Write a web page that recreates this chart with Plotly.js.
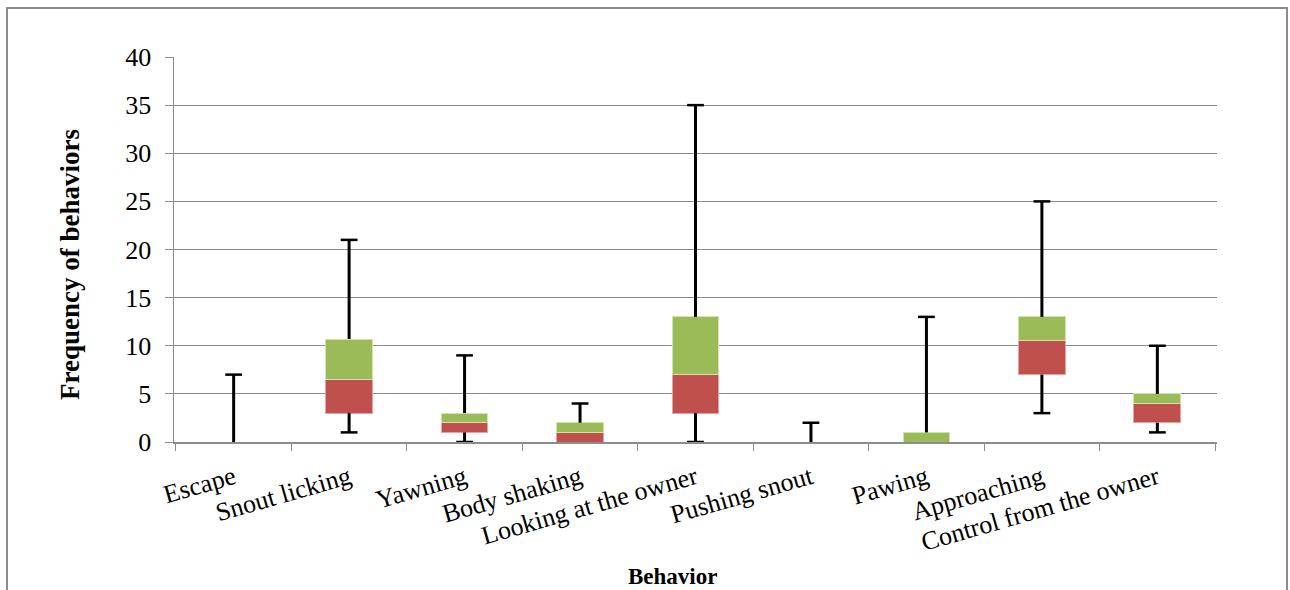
<!DOCTYPE html>
<html>
<head>
<meta charset="utf-8">
<script src="https://cdn.plot.ly/plotly-3.0.1.min.js"></script>
<style>
html,body{margin:0;padding:0;background:#fff;}
#wrap{position:relative;width:1290px;height:590px;overflow:hidden;}
#chart{position:absolute;left:0;top:0;width:1290px;height:590px;}
#frame{position:absolute;left:6px;top:7px;width:1282px;height:600px;border:2px solid #8c8c8c;pointer-events:none;box-sizing:border-box;}
</style>
</head>
<body>
<div id="wrap"><div id="chart"></div><div id="frame"></div></div>
<script>
var categories = ["Escape","Snout licking","Yawning","Body shaking","Looking at the owner","Pushing snout","Pawing","Approaching","Control from the owner"];
var minVals    = [0, 1, 0, 0, 0, 0, 0, 3, 1];
var q1Vals     = [0, 3, 1, 0, 3, 0, 0, 7, 2];
var medianVals = [0, 6.5, 2, 1, 7, 0, 0, 10.5, 4];
var q3Vals     = [0, 10.7, 3, 2, 13, 0, 1, 13, 5];
var maxVals    = [7, 21, 9, 4, 35, 2, 13, 25, 10];
var yTicks     = [0,5,10,15,20,25,30,35,40];

var RED = "#C0504D", GREEN = "#9BBB59";
var FONT = "'Liberation Serif', 'Times New Roman', serif";

// stacked-bar box parts
var baseTrace = {type:"bar", x:categories, y:q1Vals, marker:{color:"rgba(0,0,0,0)"}, hoverinfo:"skip", showlegend:false};
var lowerBox = {type:"bar", x:categories, y:medianVals.map(function(m,i){return m-q1Vals[i];}),
  marker:{color:RED, line:{color:"#E3A3A1", width:1}}, showlegend:false};
var upperBox = {type:"bar", x:categories, y:q3Vals.map(function(q,i){return q-medianVals[i];}),
  marker:{color:GREEN, line:{color:"#D2E4AE", width:1}}, showlegend:false};

// whisker segments (min..Q1, Q3..max)
var wx = [], wy = [];
categories.forEach(function(c,i){
  if(minVals[i] < q1Vals[i]){ wx.push(c,c,null); wy.push(minVals[i], q1Vals[i], null); }
  if(maxVals[i] > q3Vals[i]){ wx.push(c,c,null); wy.push(q3Vals[i], maxVals[i], null); }
});
var whiskers = {type:"scatter", mode:"lines", x:wx, y:wy, line:{color:"#000", width:3}, hoverinfo:"skip", showlegend:false};

// caps
var cx = [], cy = [];
categories.forEach(function(c,i){
  if(minVals[i] < q1Vals[i]){ cx.push(c); cy.push(minVals[i]); }
  if(maxVals[i] > q3Vals[i]){ cx.push(c); cy.push(maxVals[i]); }
});
var caps = {type:"scatter", mode:"markers", x:cx, y:cy,
  marker:{symbol:"line-ew", size:12, line:{color:"#000", width:2.5}}, hoverinfo:"skip", showlegend:false};

var layout = {
  width:1290, height:590,
  margin:{l:174, r:73, t:57, b:148},
  paper_bgcolor:"#fff", plot_bgcolor:"#fff",
  barmode:"stack", bargap:0.595,
  font:{family:FONT, color:"#000", size:26},
  xaxis:{
    type:"category", tickangle:-16, tickson:"boundaries",
    ticks:"outside", ticklen:7, tickcolor:"#8c8c8c",
    showline:true, linecolor:"#8c8c8c", linewidth:1.5,
    showgrid:false, zeroline:false,
    ticklabelstandoff:9,
    tickfont:{family:FONT, size:26, color:"#000"}
  },
  yaxis:{
    range:[0,40], tickvals:yTicks, ticktext:yTicks.map(String),
    ticks:"outside", ticklen:8, tickcolor:"#8c8c8c",
    showline:true, linecolor:"#8c8c8c", linewidth:1.5,
    showgrid:true, gridcolor:"#8c8c8c", gridwidth:1.2, zeroline:false,
    ticklabelstandoff:8,
    tickfont:{family:FONT, size:26, color:"#000"}
  },
  annotations:[
    {text:"<b>Behavior</b>", xref:"paper", yref:"paper", x:0.4775, y:-0.349,
     xanchor:"center", yanchor:"middle", showarrow:false, font:{family:FONT, size:23, color:"#000"}},
    {text:"<b>Frequency of behaviors</b>", xref:"paper", yref:"paper", x:-0.0997, y:0.46, textangle:-90,
     xanchor:"center", yanchor:"middle", showarrow:false, font:{family:FONT, size:27, color:"#000"}}
  ]
};

Plotly.newPlot("chart", [baseTrace, lowerBox, upperBox, whiskers, caps], layout, {displayModeBar:false, staticPlot:true});
</script>
</body>
</html>
